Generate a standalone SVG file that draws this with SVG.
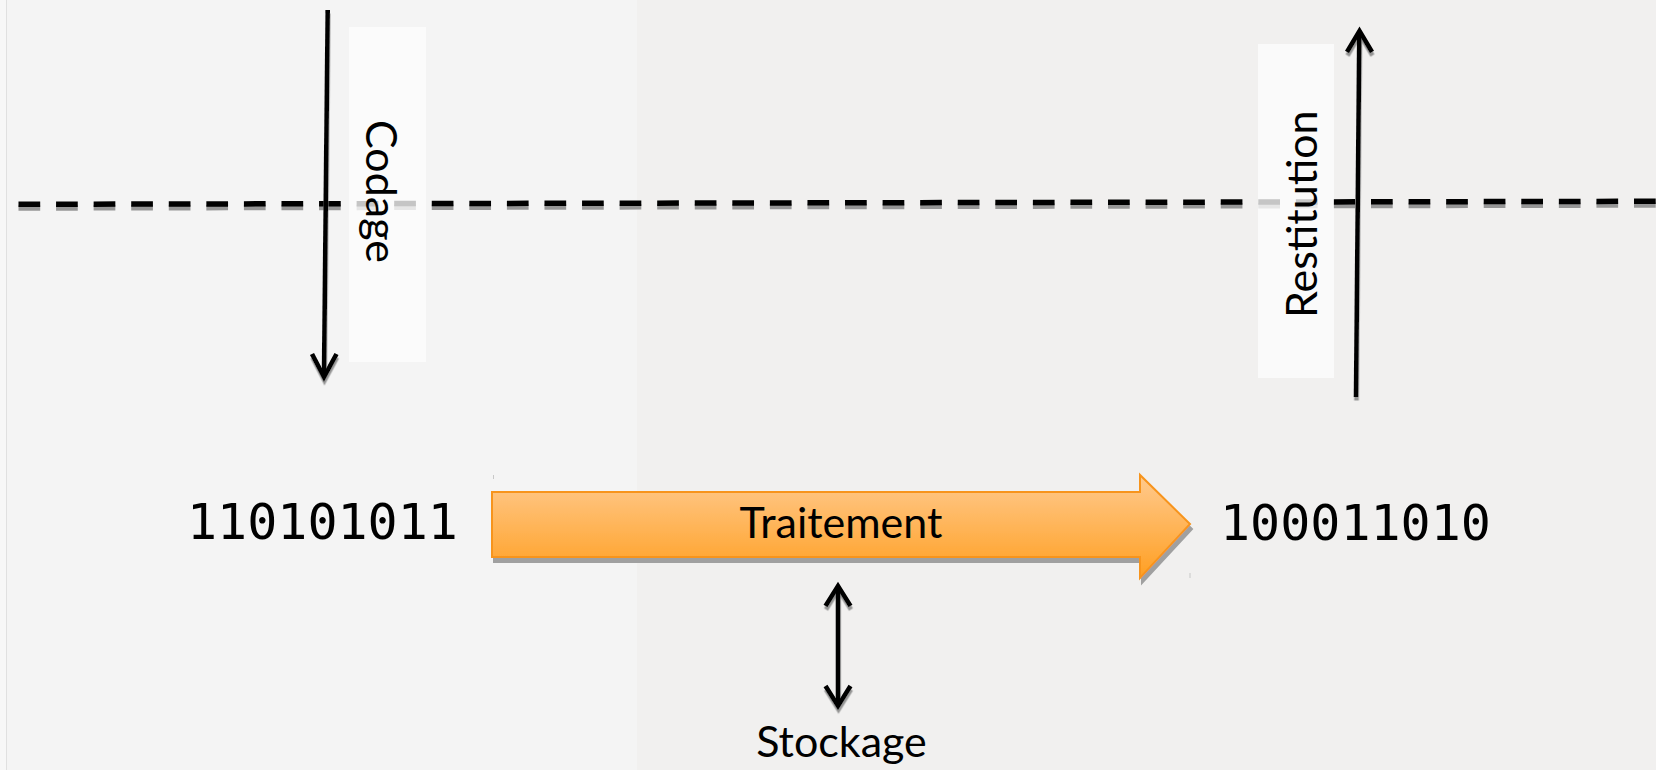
<svg xmlns="http://www.w3.org/2000/svg" width="1656" height="770" viewBox="0 0 1656 770">
<style>
.lbl{font-family:"Lato","Liberation Sans",sans-serif;font-size:43px;fill:#000}
.bits{font-family:"DejaVu Sans Mono","Liberation Mono",monospace;font-size:50px;fill:#000}
.ln{fill:none;stroke:#000;stroke-width:4.6;stroke-linejoin:miter;stroke-linecap:butt}
.box{fill:#fcfcfc;fill-opacity:0.78}
.dash{fill:none;stroke-width:5.5;stroke-dasharray:21.7 15.87}
</style>
<defs>
<filter id="sh" x="-20%" y="-20%" width="140%" height="140%">
<feDropShadow dx="0.5" dy="3.5" stdDeviation="0.4" flood-color="#8a8a8a" flood-opacity="0.9"/>
</filter>
<filter id="sh2" x="-5%" y="-20%" width="110%" height="140%">
<feDropShadow dx="2" dy="5" stdDeviation="0.4" flood-color="#a0a0a0" flood-opacity="1"/>
</filter>
<linearGradient id="og" x1="0" y1="0" x2="0" y2="1">
<stop offset="0" stop-color="#ffca8e"/>
<stop offset="1" stop-color="#ff9f22"/>
</linearGradient>
</defs>
<g id="background">
<rect x="0" y="0" width="1656" height="770" fill="#f1f0ef"/>
<rect x="0" y="0" width="637" height="770" fill="#f4f4f4"/>
<rect x="0" y="0" width="6" height="770" fill="#f7f7f7"/>
<line x1="6.5" y1="0" x2="6.5" y2="770" stroke="#e0e0e0" stroke-width="1"/>
</g>
<g id="separator">
<line class="dash" x1="18.5" y1="208" x2="1656" y2="205" stroke="#969696"/>
<line class="dash" x1="18.5" y1="204.3" x2="1656" y2="201.3" stroke="#000"/>
</g>
<g id="codage-label">
<rect class="box" x="349" y="27" width="77" height="335"/>
<text class="lbl" font-size="46" transform="translate(366,120) rotate(90)">Codage</text>
</g>
<g id="restitution-label">
<rect class="box" x="1258" y="44" width="76" height="334"/>
<text class="lbl" font-size="46" transform="translate(1317,318) rotate(-90)">Restitution</text>
</g>
<g id="input-bits">
<text class="bits" x="187" y="539">110101011</text>
</g>
<g id="output-bits">
<text class="bits" x="1220" y="540">100011010</text>
</g>
<g id="traitement">
<path d="M492,492 H1140 V475 L1190,524 L1140,578 V557 H492 Z" fill="url(#og)" stroke="#f7941d" stroke-width="2" filter="url(#sh2)"/>
<text class="lbl" font-size="44" x="841" y="538" text-anchor="middle">Traitement</text>
<rect x="493" y="475" width="1" height="4" fill="#c8c8c8"/>
<rect x="1189.5" y="573" width="1" height="5" fill="#c8c8c8"/>
</g>
<g id="stockage">
<text class="lbl" x="841.5" y="757" text-anchor="middle">Stockage</text>
</g>
<g id="connectors" filter="url(#sh)">
<g id="arrow-codage">
<line class="ln" x1="327.7" y1="10" x2="324" y2="376"/>
<polyline class="ln" points="312,354 324,377 336.5,354"/>
</g>
<g id="arrow-restitution">
<line class="ln" x1="1356" y1="397" x2="1359.3" y2="33"/>
<polyline class="ln" points="1347,52 1359.5,31 1372,52"/>
</g>
<g id="arrow-stockage">
<line class="ln" x1="838" y1="587" x2="838" y2="705"/>
<polyline class="ln" points="825.5,606 838,586 850.5,606"/>
<polyline class="ln" points="825.5,686 838,706 850.5,686"/>
</g>
</g>
</svg>
